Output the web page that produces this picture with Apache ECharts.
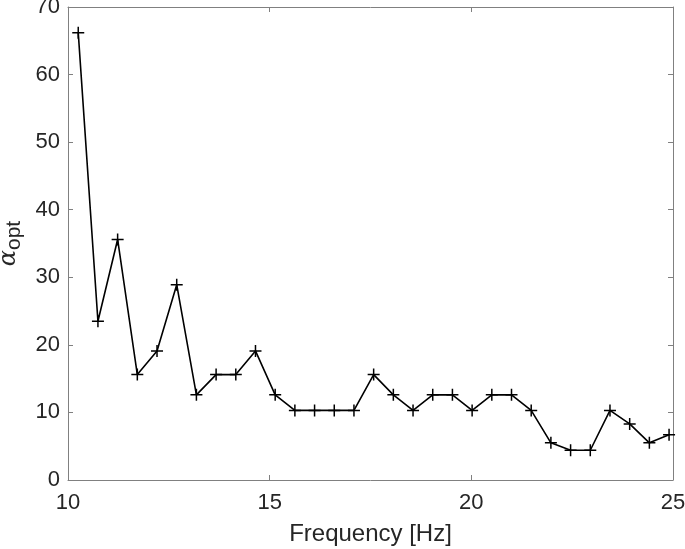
<!DOCTYPE html>
<html>
<head>
<meta charset="utf-8">
<script src="https://cdn.jsdelivr.net/npm/echarts@6/dist/echarts.min.js"></script>
<style>html,body{margin:0;padding:0;background:#fff}#c{width:685px;height:549px}</style>
</head>
<body>
<div id="c"></div>
<script>
// frequencies: k * 1000/2048 Hz for k = 21..51
const freqBins = [21,22,23,24,25,26,27,28,29,30,31,32,33,34,35,36,37,38,39,40,41,42,43,44,45,46,47,48,49,50,51];
const alphaOpt = [66.2,23.5,35.6,15.6,19.1,28.9,12.6,15.6,15.6,19.1,12.6,10.3,10.3,10.3,10.3,15.6,12.6,10.3,12.6,12.6,10.3,12.6,12.6,10.3,5.5,4.4,4.4,10.3,8.3,5.5,6.7];
const binWidth = 1000/2048;
const xTicks = [10,15,20,25];
const yTicks = [0,10,20,30,40,50,60,70];

const data = freqBins.map((k,i)=>[k*binWidth, alphaOpt[i]]);

const axisColor = '#808080';
const textColor = '#262626';
const font = 'Liberation Sans, Arial, Helvetica, sans-serif';

const chart = echarts.init(document.getElementById('c'), null, {renderer:'canvas'});
chart.setOption({
  animation:false,
  backgroundColor:'#fff',
  grid:{left:68,top:7,right:12,bottom:69,containLabel:false,outerBoundsMode:'none'},
  xAxis:[{
    type:'value', min:xTicks[0], max:xTicks[xTicks.length-1], interval:5,
    name:'Frequency [Hz]', nameLocation:'middle', nameGap:42,
    nameTextStyle:{fontFamily:font,fontSize:24,color:textColor},
    axisLine:{show:true,onZero:false,lineStyle:{color:axisColor,width:1}},
    axisTick:{show:true,inside:true,length:5,lineStyle:{color:axisColor}},
    axisLabel:{fontFamily:font,fontSize:22,color:textColor,margin:12},
    splitLine:{show:false}
  },{
    type:'value', min:xTicks[0], max:xTicks[xTicks.length-1], interval:5, position:'top',
    axisLine:{show:true,onZero:false,lineStyle:{color:axisColor,width:1}},
    axisTick:{show:true,inside:true,length:5,lineStyle:{color:axisColor}},
    axisLabel:{show:false}, splitLine:{show:false}
  }],
  yAxis:[{
    type:'value', min:yTicks[0], max:yTicks[yTicks.length-1], interval:10,
    name:'{a|α}{s|opt}', nameLocation:'middle', nameGap:36, nameRotate:90,
    nameTextStyle:{fontFamily:font,fontSize:22,color:textColor,
      rich:{a:{fontFamily:'DejaVu Serif, serif',fontStyle:'italic',fontSize:24,color:textColor},
            s:{fontFamily:font,fontSize:21,color:textColor,verticalAlign:'bottom',padding:[10,0,0,0]}}},
    axisLine:{show:true,onZero:false,lineStyle:{color:axisColor,width:1}},
    axisTick:{show:true,inside:true,length:5,lineStyle:{color:axisColor}},
    axisLabel:{fontFamily:font,fontSize:22,color:textColor,margin:8},
    splitLine:{show:false}
  },{
    type:'value', min:yTicks[0], max:yTicks[yTicks.length-1], interval:10, position:'right',
    axisLine:{show:true,onZero:false,lineStyle:{color:axisColor,width:1}},
    axisTick:{show:true,inside:true,length:5,lineStyle:{color:axisColor}},
    axisLabel:{show:false}, splitLine:{show:false}
  }],
  series:[{
    type:'line', data:data, xAxisIndex:0, yAxisIndex:0,
    lineStyle:{color:'#000',width:1.6},
    symbol:'path://M0,5L10,5M5,0L5,10', symbolSize:12,
    itemStyle:{color:'none',borderColor:'#000',borderWidth:1.5},
    emphasis:{disabled:true}
  }]
});
</script>
</body>
</html>
